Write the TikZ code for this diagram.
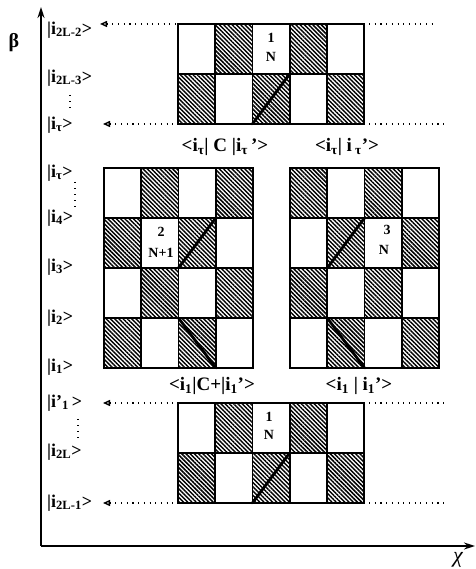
\documentclass[tikz,border=0pt]{standalone}
\usepackage{fontspec}
\setmainfont{Liberation Serif}
\usetikzlibrary{patterns.meta,arrows.meta}
\tikzset{
  hatch/.style={pattern={Lines[angle=-45,distance=3pt,line width=1.45pt]}},
  gridline/.style={line width=1.8pt,line cap=rect},
  diag/.style={line width=2.8pt,line cap=round},
  lbl/.style={font=\fontsize{18}{20}\selectfont\bfseries,anchor=west,inner sep=0pt},
  toplbl/.style={font=\fontsize{19}{20}\selectfont\bfseries,inner sep=0pt},
  celltxt/.style={font=\fontsize{14}{15}\selectfont\bfseries,inner sep=0pt},
  guide/.style={line width=1.1pt,dash pattern=on 1.1pt off 4.6pt},
  guidearrow/.style={guide,{Triangle[open,length=7pt,width=6pt,line width=1.4pt]}-},
  vdots/.style={line width=1.1pt,dash pattern=on 1.1pt off 5pt},
  axis/.style={line width=1.8pt,-{Stealth[length=11pt,width=7pt]}}
}
\newcommand\chkboard[6]{%
  \foreach \c in {1,...,#3}{%
    \foreach \r in {1,...,#4}{%
      \pgfmathtruncatemacro\hp{mod(\c+\r+#5,2)}%
      \ifnum\hp=1 \fill[hatch] ({#1+(\c-1)*#6},{#2-(\r-1)*50}) rectangle ++(#6,-50);\fi
    }%
  }%
  \foreach \c in {0,...,#3} \draw[gridline] ({#1+\c*#6},#2) -- ++(0,{-50*#4});
  \foreach \r in {0,...,#4} \draw[gridline] (#1,{#2-\r*50}) -- ++({#3*#6},0);
}
\begin{document}
\begin{tikzpicture}[x=1pt,y=1pt]
\useasboundingbox (0,0) rectangle (475,569);

% axes
\coordinate (O) at (41,23);
\coordinate (Ytip) at (41,562);
\coordinate (Xtip) at (475,23);
\draw[axis] (O) -- (Ytip);
\draw[axis] (O) -- (Xtip);
\node[font=\fontsize{20}{20}\selectfont\bfseries] (beta) at (14,526) {β};
\node[font=\fontsize{22}{22}\selectfont\itshape] (chi) at (458,9) {χ};

% grids
\chkboard{178}{545}{5}{2}{0}{37.2}
\chkboard{104}{401}{4}{4}{0}{37.25}
\chkboard{290}{401}{4}{4}{1}{37.25}
\chkboard{178}{166}{5}{2}{0}{37.2}

% diagonals
\draw[diag] (252.4,445) -- (289.6,495);
\draw[diag] (178.5,301) -- (215.75,351);
\draw[diag] (178.5,251) -- (215.75,201);
\draw[diag] (327.25,301) -- (364.5,351);
\draw[diag] (327.25,251) -- (364.5,201);
\draw[diag] (252.4,66) -- (289.6,116);

% cell texts
\node[celltxt] (t1a) at (271,531) {1};
\node[celltxt] (t1b) at (271,512) {N};
\node[celltxt] (t2a) at (161,337) {2};
\node[celltxt] (t2b) at (161,316) {N+1};
\node[celltxt] (t3a) at (387,339) {3};
\node[celltxt] (t3b) at (384,319) {N};
\node[celltxt] (t4a) at (269,152) {1};
\node[celltxt] (t4b) at (269,134) {N};

% labels above grids
\node[toplbl] (m1) at (225,422) {<i\textsubscript{τ}| C |i\textsubscript{τ}\,'>};
\node[toplbl] (m2) at (347,422) {<i\textsubscript{τ}| i\,\textsubscript{τ}'>};
\node[toplbl] (m3) at (212,183) {<i\textsubscript{1}|C+|i\textsubscript{1}'>};
\node[toplbl] (m4) at (359,183) {<i\textsubscript{1} | i\textsubscript{1}'>};

% left labels
\node[lbl] (l1) at (47,539) {|i\textsubscript{2L-2}>};
\node[lbl] (l2) at (47,491) {|i\textsubscript{2L-3}>};
\node[lbl] (l3) at (47,444) {|i\textsubscript{τ}>};
\node[lbl] (l4) at (47,396) {|i\textsubscript{τ}>};
\node[lbl] (l5) at (47,351) {|i\textsubscript{4}>};
\node[lbl] (l6) at (47,302) {|i\textsubscript{3}>};
\node[lbl] (l7) at (47,251) {|i\textsubscript{2}>};
\node[lbl] (l8) at (47,202) {|i\textsubscript{1}>};
\node[lbl] (l9) at (47,166) {|i'\textsubscript{1}\,>};
\node[lbl] (l10) at (47,117) {|i\textsubscript{2L}>};
\node[lbl] (l11) at (47,66) {|i\textsubscript{2L-1}>};

% vertical dots
\draw[vdots] (70,474) -- (70,456);
\draw[vdots] (75,387) -- (75,360);
\draw[vdots] (78,150) -- (78,128);

% guide lines
\coordinate (a1) at (100,545); \coordinate (g1l) at (178,545);
\coordinate (g1r) at (369,545); \coordinate (e1) at (437,545);
\coordinate (a2) at (103,445); \coordinate (g2l) at (178,445);
\coordinate (g2r) at (369,445); \coordinate (e2) at (445,445);
\coordinate (a3) at (103,166); \coordinate (g3l) at (178,166);
\coordinate (g3r) at (369,166); \coordinate (e3) at (448,166);
\coordinate (a4) at (103,66); \coordinate (g4l) at (178,66);
\coordinate (g4r) at (369,66); \coordinate (e4) at (448,66);
\draw[guidearrow] (a1) -- (g1l);
\draw[guide] (g1r) -- (e1);
\draw[guidearrow] (a2) -- (g2l);
\draw[guide] (g2r) -- (e2);
\draw[guidearrow] (a3) -- (g3l);
\draw[guide] (g3r) -- (e3);
\draw[guidearrow] (a4) -- (g4l);
\draw[guide] (g4r) -- (e4);
\end{tikzpicture}
\end{document}
